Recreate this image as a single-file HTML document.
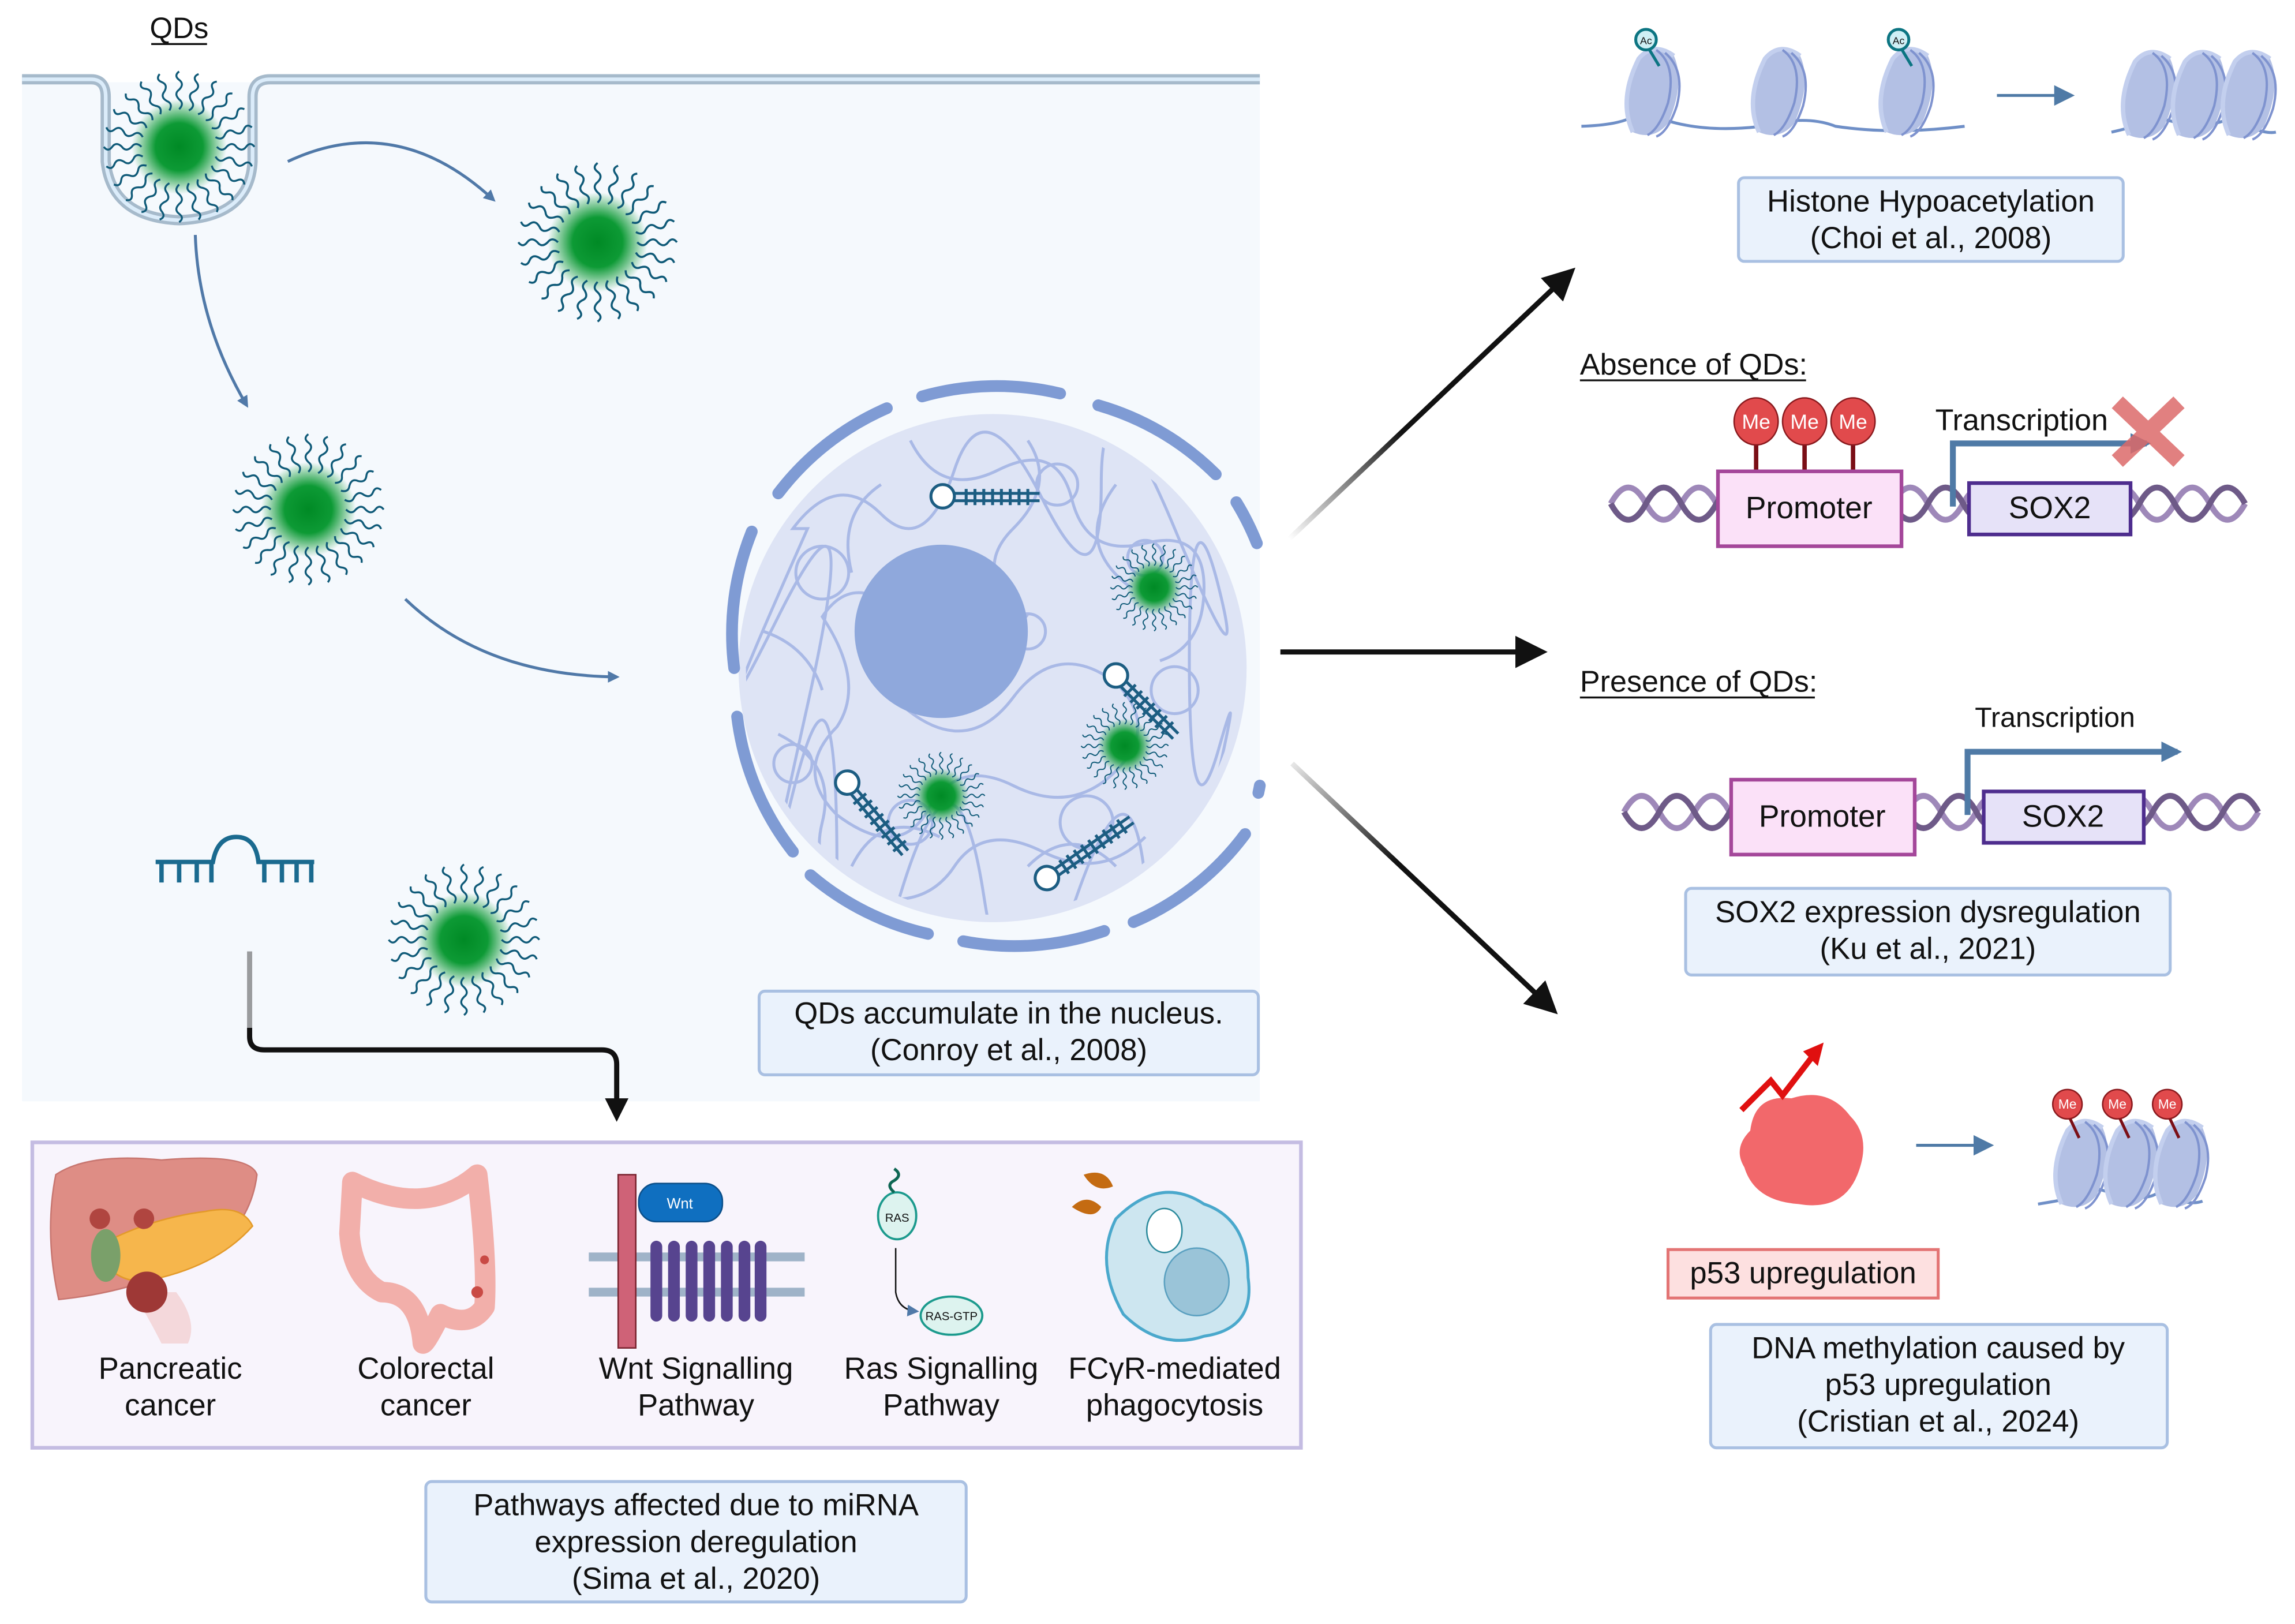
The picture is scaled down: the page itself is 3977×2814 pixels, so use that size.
<!DOCTYPE html>
<html><head><meta charset="utf-8"><style>
html,body{margin:0;padding:0;background:#fff;}
svg{display:block;}
text{font-family:"Liberation Sans",sans-serif;fill:#111;}
</style></head><body>
<svg width="3977" height="2814" viewBox="0 0 1563 1106" preserveAspectRatio="none" xmlns="http://www.w3.org/2000/svg">
<defs>
<clipPath id="nc"><circle cx="676" cy="455" r="168"/></clipPath>
<radialGradient id="qg"><stop offset="0" stop-color="#008a25"/><stop offset="0.5" stop-color="#0d9a35"/><stop offset="1" stop-color="#0d9a35" stop-opacity="0"/></radialGradient>
<path id="wg" d="M0,-27 q4,-4 0,-7 q-4,-4 0,-7 q4,-4 0,-7 q-4,-3 0,-6" fill="none" stroke="#0f5a78" stroke-width="1.4"/>
<g id="qd">
<circle r="34" fill="url(#qg)"/>
<use href="#wg"/><use href="#wg" transform="rotate(15)"/><use href="#wg" transform="rotate(30)"/><use href="#wg" transform="rotate(45)"/><use href="#wg" transform="rotate(60)"/><use href="#wg" transform="rotate(75)"/><use href="#wg" transform="rotate(90)"/><use href="#wg" transform="rotate(105)"/><use href="#wg" transform="rotate(120)"/><use href="#wg" transform="rotate(135)"/><use href="#wg" transform="rotate(150)"/><use href="#wg" transform="rotate(165)"/><use href="#wg" transform="rotate(180)"/><use href="#wg" transform="rotate(195)"/><use href="#wg" transform="rotate(210)"/><use href="#wg" transform="rotate(225)"/><use href="#wg" transform="rotate(240)"/><use href="#wg" transform="rotate(255)"/><use href="#wg" transform="rotate(270)"/><use href="#wg" transform="rotate(285)"/><use href="#wg" transform="rotate(300)"/><use href="#wg" transform="rotate(315)"/><use href="#wg" transform="rotate(330)"/><use href="#wg" transform="rotate(345)"/>
</g>
<g id="nuc">
<path d="M-12,30 Q-22,8 -8,-20 Q2,-32 16,-22 Q24,-4 12,24 Q2,36 -12,30Z" fill="#b3c0e4"/>
<path d="M-12,30 Q-22,8 -8,-20 Q2,-32 16,-22" fill="none" stroke="#c3cfee" stroke-width="3"/>
<path d="M4,-26 Q18,-16 12,10 Q6,28 -2,32 M10,-24 Q24,-12 18,12 Q12,30 4,33" fill="none" stroke="#7f93cf" stroke-width="1.6"/>
</g>
<g id="dna">
<path d="M0,0 q12,-22 24,0 t24,0 t24,0 t24,0 t24,0 t24,0 t24,0 t24,0 t24,0 t24,0 t24,0 t24,0 t24,0 t24,0 t24,0 t24,0 t24,0 t24,0" fill="none" stroke="#9e88b9" stroke-width="4"/>
<path d="M0,-11 q12,22 24,0 t24,0 t24,0 t24,0 t24,0 t24,0 t24,0 t24,0 t24,0 t24,0 t24,0 t24,0 t24,0 t24,0 t24,0 t24,0 t24,0 t24,0" fill="none" stroke="#6e5a88" stroke-width="4" transform="translate(0,11)"/>
</g>
<marker id="ab" markerWidth="8" markerHeight="8" refX="6" refY="4" orient="auto" markerUnits="userSpaceOnUse"><path d="M0,0 L8,4 L0,8Z" fill="#5079a8"/></marker>
<marker id="ak" markerWidth="22" markerHeight="22" refX="18" refY="11" orient="auto" markerUnits="userSpaceOnUse"><path d="M0,0 L22,11 L0,22Z" fill="#111"/></marker>
<marker id="ak2" markerWidth="16" markerHeight="16" refX="12" refY="8" orient="auto" markerUnits="userSpaceOnUse"><path d="M0,0 L16,8 L0,16Z" fill="#111"/></marker>
<marker id="abl" markerWidth="14" markerHeight="14" refX="11" refY="7" orient="auto" markerUnits="userSpaceOnUse"><path d="M0,0 L14,7 L0,14Z" fill="#4f7aa6"/></marker>
<linearGradient id="g1" x1="0" y1="1" x2="1" y2="0"><stop offset="0" stop-color="#111" stop-opacity="0"/><stop offset="0.4" stop-color="#111"/></linearGradient>
<linearGradient id="g3" x1="0" y1="0" x2="1" y2="1"><stop offset="0" stop-color="#111" stop-opacity="0.1"/><stop offset="0.4" stop-color="#111"/></linearGradient>
</defs>

<!-- cell -->
<rect x="15" y="56" width="843" height="694" fill="#f5f9fd"/>
<path d="M15,54 H62 Q72,54 72,66 V110 Q76,148 122,150 Q170,148 172,110 V66 Q172,54 184,54 H858" fill="none" stroke="#a6bacb" stroke-width="7"/>
<path d="M15,54 H62 Q72,54 72,66 V110 Q76,148 122,150 Q170,148 172,110 V66 Q172,54 184,54 H858" fill="none" stroke="#dbecfa" stroke-width="2.5"/>
<text x="122" y="26" font-size="20" text-anchor="middle">QDs</text>
<line x1="103" y1="30" x2="141" y2="30" stroke="#111" stroke-width="1.3"/>
<use href="#qd" transform="translate(122,100) scale(0.95)"/>
<use href="#qd" transform="translate(407,165) scale(1.0)"/>
<use href="#qd" transform="translate(210,347) scale(0.95)"/>
<use href="#qd" transform="translate(316,640) scale(0.95)"/>

<path d="M196,110 Q270,75 336,136" fill="none" stroke="#5079a8" stroke-width="2" marker-end="url(#ab)"/>
<path d="M133,160 Q135,220 168,276" fill="none" stroke="#5079a8" stroke-width="2" marker-end="url(#ab)"/>
<path d="M276,408 Q330,460 420,461" fill="none" stroke="#5079a8" stroke-width="2" marker-end="url(#ab)"/>

<!-- nucleus -->
<circle cx="676" cy="455" r="173" fill="#dee4f5"/>
<g fill="none" stroke="#a9b9e6" stroke-width="2" clip-path="url(#nc)">
<path d="M540,360 q30,-40 60,-10 t50,-30 t60,20 t40,-10 t50,30 t30,40 t-20,50 t20,60 t-10,60 t-40,30 t-50,20 t-60,-10 t-60,10 t-40,-30 t-30,-50 t10,-60 t-20,-60 t20,-60z"/>
<path d="M560,420 q20,-30 50,-5 q-30,40 10,70 q40,30 70,-10 q30,-40 70,-10 q30,30 0,60 q-30,30 -70,10 q-40,-20 -60,20 q-20,30 -60,0 q-30,-30 0,-60 q20,-30 -10,-75z"/>
<path d="M620,300 q20,40 60,20 q40,-20 50,20 q10,40 50,30 q40,-10 40,30 q0,40 -30,50"/>
<path d="M530,500 q40,20 30,60 q-10,40 30,50 q40,10 60,-20 q20,-30 60,-10 q40,20 70,-10"/>
<path d="M600,330 q-30,20 -20,60 M700,300 q20,30 -10,60 q-30,30 10,60 M760,330 q-30,40 10,70 M520,430 q30,10 40,40 M700,590 q30,-30 60,0 M580,590 q20,-40 60,-20"/>
<circle cx="560" cy="390" r="18"/><circle cx="720" cy="330" r="14"/><circle cx="800" cy="470" r="16"/><circle cx="620" cy="560" r="15"/><circle cx="740" cy="560" r="18"/><circle cx="700" cy="430" r="12"/><circle cx="540" cy="520" r="13"/><circle cx="780" cy="380" r="12"/>
</g>
<circle cx="641" cy="430" r="59" fill="#8fa8dc"/>
<g fill="none" stroke="#7f9bd4" stroke-width="8" stroke-linecap="round">
<path d="M628,270 A186,186 0 0 1 722,268"/>
<path d="M748,276 A186,186 0 0 1 828,323"/>
<path d="M842,342 A186,186 0 0 1 856,370"/>
<path d="M530,336 A186,186 0 0 1 604,278"/>
<path d="M512,362 A186,186 0 0 0 500,455"/>
<path d="M502,488 A186,186 0 0 0 540,580"/>
<path d="M552,596 A186,186 0 0 0 632,636"/>
<path d="M656,641 A186,186 0 0 0 752,634"/>
<path d="M772,628 A186,186 0 0 0 848,568"/>
<path d="M857,540 A186,186 0 0 0 858,535"/>
</g>
<use href="#qd" transform="translate(786,400) scale(0.55)"/>
<use href="#qd" transform="translate(766,508) scale(0.55)"/>
<use href="#qd" transform="translate(641,542) scale(0.55)"/>
<g stroke="#1c5d82" stroke-width="2" fill="none">
<circle cx="642" cy="338" r="8" fill="#fff"/><path d="M650,336 H708 M650,341 H708"/><path d="M658,333 v11 M664,333 v11 M670,333 v11 M676,333 v11 M682,333 v11 M688,333 v11 M694,333 v11 M700,333 v11"/>
<g transform="translate(760,460) rotate(45)"><circle cx="0" cy="0" r="8" fill="#fff"/><path d="M8,-2 H58 M8,3 H58 M14,-5 v11 M20,-5 v11 M26,-5 v11 M32,-5 v11 M38,-5 v11 M44,-5 v11 M50,-5 v11"/></g>
<g transform="translate(577,533) rotate(50)"><circle cx="0" cy="0" r="8" fill="#fff"/><path d="M8,-2 H62 M8,3 H62 M14,-5 v11 M20,-5 v11 M26,-5 v11 M32,-5 v11 M38,-5 v11 M44,-5 v11 M50,-5 v11 M56,-5 v11"/></g>
<g transform="translate(713,598) rotate(-35)"><circle cx="0" cy="0" r="8" fill="#fff"/><path d="M8,-2 H70 M8,3 H70 M14,-5 v11 M20,-5 v11 M26,-5 v11 M32,-5 v11 M38,-5 v11 M44,-5 v11 M50,-5 v11 M56,-5 v11 M62,-5 v11"/></g>
</g>
<rect x="517" y="675" width="340" height="57" rx="4" fill="#eaf2fc" stroke="#a9c0e2" stroke-width="2"/>
<text x="687" y="697" font-size="20.7" text-anchor="middle">QDs accumulate in the nucleus.</text>
<text x="687" y="722" font-size="20.7" text-anchor="middle">(Conroy et al., 2008)</text>

<!-- miRNA -->
<g stroke="#1a6a8f" stroke-width="3" fill="none">
<path d="M106,587 H145 Q148,570 161,570 Q174,570 176,587 H214"/>
<path d="M110,587 v14 M122,587 v14 M134,587 v14 M144,587 v14 M180,587 v14 M192,587 v14 M202,587 v14 M212,587 v14"/>
</g>
<path d="M170,648 V706 Q170,715 180,715 H410 Q420,715 420,725 V760" fill="none" stroke="#111" stroke-width="3.5" marker-end="url(#ak2)"/>
<path d="M170,648 V700" stroke="#f5f9fd" stroke-width="4" opacity="0.6"/>

<!-- bottom panel -->
<rect x="22" y="778" width="864" height="208" fill="#f8f4fc" stroke="#c4bce2" stroke-width="2.5"/>
<path d="M38,800 Q60,785 110,790 Q170,785 175,800 Q170,840 130,860 Q90,880 40,885 Q30,840 38,800Z" fill="#de8d85" stroke="#c87670"/>
<path d="M120,880 Q135,900 128,915 L110,915 Q100,895 90,880Z" fill="#f2c4c4" opacity="0.6"/>
<path d="M64,850 Q100,830 140,825 Q165,820 172,835 Q150,860 110,870 Q80,880 64,850Z" fill="#f6b64c" stroke="#e39a2a"/>
<ellipse cx="72" cy="855" rx="10" ry="18" fill="#7aa06a"/>
<circle cx="100" cy="880" r="14" fill="#9e3836"/><circle cx="68" cy="830" r="7" fill="#b04540"/><circle cx="98" cy="830" r="7" fill="#b04540"/>
<path d="M240,805 Q290,830 325,800 Q332,860 330,890 Q320,905 300,895 Q290,915 288,915 Q285,880 260,880 Q240,870 238,840Z" fill="none" stroke="#f2afaa" stroke-width="14" stroke-linejoin="round"/>
<circle cx="330" cy="858" r="3" fill="#c94a45"/><circle cx="325" cy="880" r="4" fill="#c94a45"/>
<g fill="#9fb3c8"><rect x="401" y="853" width="147" height="6"/><rect x="401" y="877" width="147" height="6"/></g>
<rect x="421" y="800" width="12" height="118" fill="#cf6277" stroke="#7a2430"/>
<rect x="435" y="806" width="57" height="26" rx="12" fill="#0f6fc0" stroke="#0b4f8a"/>
<text x="463" y="823" font-size="10" text-anchor="middle" style="fill:#fff">Wnt</text>
<g fill="#57448f"><rect x="443" y="845" width="8" height="55" rx="4"/><rect x="455" y="845" width="8" height="55" rx="4"/><rect x="467" y="845" width="8" height="55" rx="4"/><rect x="479" y="845" width="8" height="55" rx="4"/><rect x="491" y="845" width="8" height="55" rx="4"/><rect x="503" y="845" width="8" height="55" rx="4"/><rect x="514" y="845" width="8" height="55" rx="4"/></g>
<ellipse cx="611" cy="828" rx="13" ry="16" fill="#ddf3ef" stroke="#1c9a8d" stroke-width="1.5"/>
<text x="611" y="832" font-size="8" text-anchor="middle">RAS</text>
<path d="M609,812 q-6,-5 0,-8 q6,-4 0,-8" fill="none" stroke="#0e6653" stroke-width="2"/>
<path d="M610,850 V880 Q612,892 624,893" fill="none" stroke="#111" stroke-width="1" marker-end="url(#ab)"/>
<ellipse cx="648" cy="896" rx="21" ry="13" fill="#ddf3ef" stroke="#1c9a8d" stroke-width="1.5"/>
<text x="648" y="899" font-size="8" text-anchor="middle">RAS-GTP</text>
<path d="M760,830 Q790,800 820,820 Q850,830 850,870 Q855,905 820,910 Q790,920 765,895 Q745,860 760,830Z" fill="#cde6f0" stroke="#4aa8cc" stroke-width="2"/>
<ellipse cx="815" cy="873" rx="22" ry="23" fill="#9ac4d8" stroke="#5aa0c0"/>
<ellipse cx="793" cy="838" rx="12" ry="15" fill="#fff" stroke="#2b8a9c"/>
<path d="M730,822 q10,-10 20,0 q-5,10 -20,0Z M738,800 q15,-5 20,8 q-12,5 -20,-8Z" fill="#c46b12"/>

<g font-size="20.7" text-anchor="middle">
<text x="116" y="939">Pancreatic</text><text x="116" y="964">cancer</text>
<text x="290" y="939">Colorectal</text><text x="290" y="964">cancer</text>
<text x="474" y="939">Wnt Signalling</text><text x="474" y="964">Pathway</text>
<text x="641" y="939">Ras Signalling</text><text x="641" y="964">Pathway</text>
<text x="800" y="939">FCγR-mediated</text><text x="800" y="964">phagocytosis</text>
</g>
<rect x="290" y="1009" width="368" height="82" rx="4" fill="#eaf2fc" stroke="#a9c0e2" stroke-width="2"/>
<g font-size="20.7" text-anchor="middle"><text x="474" y="1032">Pathways affected due to miRNA</text><text x="474" y="1057">expression deregulation</text><text x="474" y="1082">(Sima et al., 2020)</text></g>

<!-- black arrows -->
<line x1="878" y1="367" x2="1070" y2="185" stroke="url(#g1)" stroke-width="3.5" marker-end="url(#ak)"/>
<line x1="872" y1="444" x2="1050" y2="444" stroke="#111" stroke-width="3.5" marker-end="url(#ak)"/>
<line x1="880" y1="520" x2="1058" y2="688" stroke="url(#g3)" stroke-width="3.5" marker-end="url(#ak)"/>

<!-- histones -->
<path d="M1077,86 Q1110,85 1118,75 Q1150,92 1200,86 Q1230,78 1250,86 Q1290,92 1338,86" fill="none" stroke="#6f8fc7" stroke-width="2"/>
<use href="#nuc" transform="translate(1124,60)"/>
<use href="#nuc" transform="translate(1210,60)"/>
<use href="#nuc" transform="translate(1297,60)"/>
<g stroke="#0c7582" stroke-width="2" fill="#cfeff5"><line x1="1121" y1="30" x2="1130" y2="45"/><circle cx="1121" cy="27" r="7"/><line x1="1293" y1="30" x2="1302" y2="45"/><circle cx="1293" cy="27" r="7"/></g>
<text x="1121" y="30" font-size="7" text-anchor="middle">Ac</text><text x="1293" y="30" font-size="7" text-anchor="middle">Ac</text>
<line x1="1360" y1="65" x2="1410" y2="65" stroke="#4f7aa6" stroke-width="2" marker-end="url(#abl)"/>
<path d="M1438,90 Q1460,85 1470,80 Q1500,90 1520,80 Q1540,92 1550,90" fill="none" stroke="#6f8fc7" stroke-width="2"/>
<use href="#nuc" transform="translate(1462,62)"/><use href="#nuc" transform="translate(1496,62)"/><use href="#nuc" transform="translate(1530,62)"/>
<rect x="1184" y="121" width="262" height="57" rx="4" fill="#eaf2fc" stroke="#a9c0e2" stroke-width="2"/>
<text x="1315" y="144" font-size="20.7" text-anchor="middle">Histone Hypoacetylation</text>
<text x="1315" y="169" font-size="20.7" text-anchor="middle">(Choi et al., 2008)</text>

<!-- absence -->
<text x="1076" y="255" font-size="20.5">Absence of QDs:</text>
<line x1="1076" y1="259" x2="1230" y2="259" stroke="#111" stroke-width="1.3"/>
<use href="#dna" transform="translate(1097,343)"/>
<g stroke="#7a0f16" stroke-width="3"><line x1="1196" y1="296" x2="1196" y2="322"/><line x1="1229" y1="296" x2="1229" y2="322"/><line x1="1262" y1="296" x2="1262" y2="322"/></g>
<g fill="#e14a4c" stroke="#8a1a1e" stroke-width="1"><ellipse cx="1196" cy="287" rx="15" ry="16"/><ellipse cx="1229" cy="287" rx="15" ry="16"/><ellipse cx="1262" cy="287" rx="15" ry="16"/></g>
<g font-size="14" text-anchor="middle"><text x="1196" y="292" style="fill:#fff">Me</text><text x="1229" y="292" style="fill:#fff">Me</text><text x="1262" y="292" style="fill:#fff">Me</text></g>
<rect x="1170" y="321" width="125" height="51" fill="#fbe1f8" stroke="#a4479a" stroke-width="2.5"/>
<text x="1232" y="353" font-size="21" text-anchor="middle">Promoter</text>
<path d="M1330,345 V302 H1462" fill="none" stroke="#4f7aa6" stroke-width="4" marker-end="url(#abl)"/>
<rect x="1341" y="329" width="110" height="35" fill="#e6e2f8" stroke="#4e2d8e" stroke-width="2.5"/>
<text x="1396" y="353" font-size="21" text-anchor="middle">SOX2</text>
<text x="1318" y="293" font-size="20.5">Transcription</text>
<g stroke="#dc6a6a" stroke-width="11" opacity="0.85"><line x1="1442" y1="274" x2="1484" y2="314"/><line x1="1484" y1="274" x2="1442" y2="314"/></g>

<!-- presence -->
<text x="1076" y="471" font-size="20.5">Presence of QDs:</text>
<line x1="1076" y1="475" x2="1236" y2="475" stroke="#111" stroke-width="1.3"/>
<use href="#dna" transform="translate(1106,553)"/>
<rect x="1179" y="531" width="125" height="51" fill="#fbe1f8" stroke="#a4479a" stroke-width="2.5"/>
<text x="1241" y="563" font-size="21" text-anchor="middle">Promoter</text>
<path d="M1340,555 V512 H1483" fill="none" stroke="#4f7aa6" stroke-width="4" marker-end="url(#abl)"/>
<rect x="1351" y="539" width="109" height="35" fill="#e6e2f8" stroke="#4e2d8e" stroke-width="2.5"/>
<text x="1405" y="563" font-size="21" text-anchor="middle">SOX2</text>
<text x="1345" y="495" font-size="19">Transcription</text>
<rect x="1148" y="605" width="330" height="59" rx="4" fill="#eaf2fc" stroke="#a9c0e2" stroke-width="2"/>
<text x="1313" y="628" font-size="20.7" text-anchor="middle">SOX2 expression dysregulation</text>
<text x="1313" y="653" font-size="20.7" text-anchor="middle">(Ku et al., 2021)</text>

<!-- p53 -->
<path d="M1192,770 Q1195,745 1220,748 Q1245,740 1260,760 Q1275,775 1265,800 Q1255,825 1225,820 Q1195,818 1188,795 Q1180,782 1192,770Z" fill="#f2686b"/>
<path d="M1186,756 L1206,736 L1214,746 L1234,720" fill="none" stroke="#e01010" stroke-width="4"/>
<path d="M1228,716 L1242,710 L1238,726Z" fill="#e01010"/>
<line x1="1305" y1="780" x2="1355" y2="780" stroke="#4f7aa6" stroke-width="2" marker-end="url(#abl)"/>
<path d="M1388,820 Q1420,815 1430,810 Q1460,820 1470,812 Q1490,822 1500,818" fill="none" stroke="#6f8fc7" stroke-width="2"/>
<use href="#nuc" transform="translate(1416,790)"/><use href="#nuc" transform="translate(1450,790)"/><use href="#nuc" transform="translate(1484,790)"/>
<g stroke="#7a0f16" stroke-width="2"><line x1="1408" y1="758" x2="1416" y2="775"/><line x1="1442" y1="758" x2="1450" y2="775"/><line x1="1476" y1="758" x2="1484" y2="775"/></g>
<g fill="#e14a4c" stroke="#8a1a1e"><circle cx="1408" cy="752" r="10"/><circle cx="1442" cy="752" r="10"/><circle cx="1476" cy="752" r="10"/></g>
<g font-size="9" text-anchor="middle"><text x="1408" y="755" style="fill:#fff">Me</text><text x="1442" y="755" style="fill:#fff">Me</text><text x="1476" y="755" style="fill:#fff">Me</text></g>
<rect x="1136" y="851" width="184" height="33" fill="#fde0e0" stroke="#e37474" stroke-width="2"/>
<text x="1228" y="874" font-size="20.7" text-anchor="middle">p53 upregulation</text>
<rect x="1165" y="902" width="311" height="84" rx="4" fill="#eaf2fc" stroke="#a9c0e2" stroke-width="2"/>
<g font-size="20.7" text-anchor="middle"><text x="1320" y="925">DNA methylation caused by</text><text x="1320" y="950">p53 upregulation</text><text x="1320" y="975">(Cristian et al., 2024)</text></g>
</svg>
</body></html>
